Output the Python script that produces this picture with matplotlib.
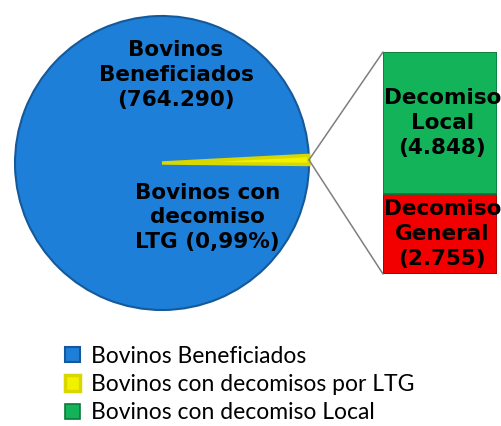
import matplotlib
matplotlib.use("Agg")
import matplotlib.pyplot as plt
from matplotlib.patches import ConnectionPatch
import numpy as np

# ---- data ----
pie_labels = ["Bovinos Beneficiados", "Bovinos con decomisos por LTG"]
beneficiados = 764290
decomiso_local = 4848
decomiso_general = 2755
ltg_total = decomiso_local + decomiso_general
pie_values = [ltg_total, beneficiados]  # yellow first so it sits on the right
bar_labels = ["Decomiso\nGeneral\n(2.755)", "Decomiso\nLocal\n(4.848)"]
bar_values = [decomiso_general, decomiso_local]
legend_labels = ["Bovinos Beneficiados", "Bovinos con decomisos por LTG",
                 "Bovinos con decomiso Local"]

BLUE = "#1E7FD8"
YELLOW = "#F2F200"
GREEN = "#12B359"
RED = "#F20000"

W, H = 502, 426
fig = plt.figure(figsize=(W / 100, H / 100), dpi=100)

# pie axes
cx, cy, r = 162, 163, 147
ax = fig.add_axes([(cx - r) / W, 1 - (cy + r) / H, 2 * r / W, 2 * r / H])
frac = ltg_total / (ltg_total + beneficiados)
ang = 360 * frac
center_ang = 1.2
wedges, _ = ax.pie(pie_values, colors=[YELLOW, BLUE], startangle=center_ang - ang / 2,
                   wedgeprops=dict(edgecolor="#15599a", linewidth=1.5))
wedges[0].set_edgecolor("#d8d800")
wedges[0].set_linewidth(2.5)
wedges[0].set_zorder(3)
ax.set_xlim(-1, 1)
ax.set_ylim(-1, 1)
ax.set_aspect("equal")

lab_font = dict(family="DejaVu Sans", weight="bold", fontsize=15.5, color="black",
                ha="center", va="center", linespacing=1.3)
ax.text(0.095, 0.6, "Bovinos\nBeneficiados\n(764.290)", **lab_font)
ax.text(0.31, -0.37, "Bovinos con\ndecomiso\nLTG (0,99%)", clip_on=False, **lab_font)

# bar axes
bx0, bx1, by0, by1 = 383, 497, 52, 274
bax = fig.add_axes([bx0 / W, 1 - by1 / H, (bx1 - bx0) / W, (by1 - by0) / H])
bottoms = np.concatenate([[0], np.cumsum(bar_values)[:-1]])
bars = bax.bar([0] * len(bar_values), bar_values, bottom=bottoms, width=1,
               color=[RED, GREEN], edgecolor=["#a00000", "#0b7a3c"], linewidth=1.2)
bax.set_xlim(-0.5, 0.5)
bax.set_ylim(0, sum(bar_values))
bax.axis("off")
for b, lab, v in zip(bottoms, bar_labels, bar_values):
    bax.text(0.02, b + v / 2, lab, clip_on=False, **lab_font)

# connector lines
t = np.deg2rad(center_ang)
p = (np.cos(t), np.sin(t))
for yb in [sum(bar_values), 0]:
    con = ConnectionPatch(xyA=p, coordsA=ax.transData, xyB=(-0.5, yb),
                          coordsB=bax.transData, color="#7f7f7f", linewidth=1.1)
    fig.add_artist(con)

# legend
handles = [wedges[1], wedges[0], bars[1]]
fig.legend(handles, legend_labels, loc="upper left", bbox_to_anchor=(0.112, 0.21),
           frameon=False, prop=dict(family="Lato", size=16.5), handlelength=0.65,
           handleheight=0.65, handletextpad=0.45, labelspacing=0.32, borderaxespad=0)

fig.savefig("out.png", dpi=100)
